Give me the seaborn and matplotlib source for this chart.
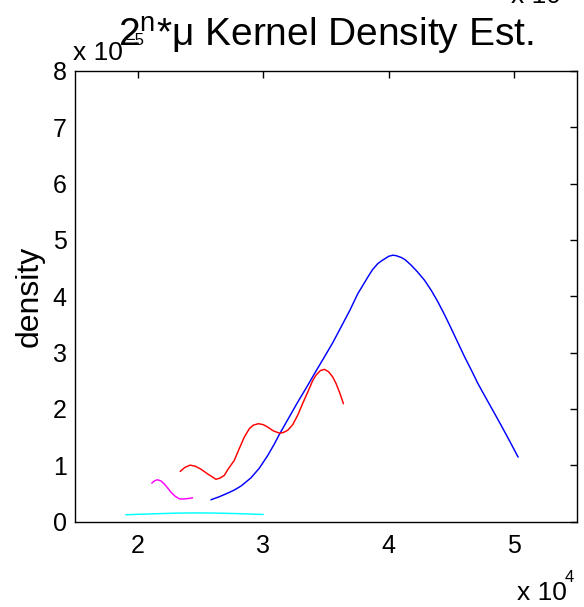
import numpy as np
import pandas as pd
import matplotlib
matplotlib.use("Agg")
import matplotlib.pyplot as plt
import seaborn as sns

# x in units of 1e4, density in units of 1e-5 (as displayed on the axes)
blue_x = [2.583, 2.65, 2.716, 2.77, 2.823, 2.902, 2.968, 3.036, 3.088, 3.128, 3.195,
          3.275, 3.355, 3.42, 3.487, 3.555, 3.620, 3.69, 3.754, 3.834,
          3.87, 3.913, 3.95, 4.00, 4.033, 4.06, 4.10, 4.13, 4.179, 4.23, 4.285, 4.34,
          4.392, 4.445, 4.498, 4.55, 4.605, 4.66, 4.711, 4.78, 4.844, 4.90, 4.951, 5.031]
blue_y = [0.386, 0.44, 0.503, 0.56, 0.630, 0.775, 0.945, 1.173, 1.375, 1.545, 1.808,
          2.121, 2.420, 2.67, 2.921, 3.18, 3.454, 3.75, 4.048, 4.343,
          4.47, 4.581, 4.64, 4.71, 4.729, 4.72, 4.688, 4.65, 4.551, 4.43, 4.284, 4.10,
          3.899, 3.67, 3.426, 3.18, 2.921, 2.68, 2.448, 2.17, 1.915, 1.69, 1.48, 1.143]

red_x = [2.338, 2.375, 2.418, 2.46, 2.503, 2.56, 2.623, 2.655, 2.689, 2.72, 2.769, 2.81,
         2.849, 2.889, 2.92, 2.961, 3.00, 3.036, 3.08, 3.128, 3.16, 3.195, 3.235,
         3.275, 3.315, 3.355, 3.395, 3.421, 3.455, 3.487, 3.52, 3.554, 3.58, 3.607, 3.639]
red_y = [0.889, 0.96, 1.001, 0.98, 0.930, 0.84, 0.750, 0.77, 0.818, 0.93, 1.084, 1.30,
         1.499, 1.648, 1.71, 1.737, 1.72, 1.676, 1.61, 1.570, 1.58, 1.62, 1.72,
         1.89, 2.10, 2.30, 2.507, 2.60, 2.68, 2.702, 2.66, 2.565, 2.45, 2.299, 2.092]

mag_x = [2.112, 2.135, 2.158, 2.185, 2.210, 2.237, 2.264, 2.297, 2.330, 2.357, 2.384,
         2.41, 2.437]
mag_y = [0.681, 0.725, 0.741, 0.72, 0.670, 0.60, 0.521, 0.45, 0.404, 0.398, 0.404,
         0.41, 0.421]

cyan_x = [1.905, 2.10, 2.30, 2.45, 2.60, 2.80, 3.00]
cyan_y = [0.120, 0.135, 0.148, 0.153, 0.150, 0.140, 0.125]

x_ticks = [2, 3, 4, 5]
y_ticks = [0, 1, 2, 3, 4, 5, 6, 7, 8]

series = {"blue": (blue_x, blue_y), "red": (red_x, red_y),
          "magenta": (mag_x, mag_y), "cyan": (cyan_x, cyan_y)}
frames = []
for name, (xs, ys) in series.items():
    frames.append(pd.DataFrame({"x": xs, "y": ys, "s": name}))
df = pd.concat(frames, ignore_index=True)

sns.set_style("white")
plt.rcParams["font.family"] = ["Liberation Sans", "DejaVu Sans"]
plt.rcParams["mathtext.fontset"] = "custom"
plt.rcParams["mathtext.rm"] = "Liberation Sans"
plt.rcParams["mathtext.it"] = "Liberation Sans:italic"
plt.rcParams["text.color"] = "black"
plt.rcParams["axes.labelcolor"] = "black"

fig = plt.figure(figsize=(5.84, 6.07), dpi=100)
ax = fig.add_axes([75/584, 1 - 521.5/607, (577-75)/584, (521.5-71)/607])

pal = {"blue": "#0000ff", "red": "#ff0000", "magenta": "#ff00ff", "cyan": "#00ffff"}
sns.lineplot(data=df, x="x", y="y", hue="s", palette=pal, units="s", estimator=None,
             sort=False, legend=False, linewidth=1.05, ax=ax)

ax.set_xlim(1.5, 5.5)
ax.set_ylim(0, 8)
ax.set_xticks(x_ticks)
ax.set_yticks(y_ticks)
ax.set_xticklabels([str(t) for t in x_ticks])
ax.set_yticklabels([str(t) for t in y_ticks])
ax.tick_params(direction="in", length=5, width=1.0, top=True, right=True,
               labelsize=18, colors="black")
ax.tick_params(axis="x", pad=9)
ax.tick_params(axis="y", pad=6)
for sp in ax.spines.values():
    sp.set_visible(True)
    sp.set_color("black")
    sp.set_linewidth(1.0)

ax.set_xlabel("")
ax.set_ylabel("density", fontsize=23, labelpad=6, color="black")
ax.set_title("2$^{\\mathrm{n}}$*μ Kernel Density Est.", fontsize=28, pad=17.5,
             color="black")

H = 607
fig.text(73/584, 1 - 60/H, "x 10", fontsize=19, ha="left", va="baseline")
fig.text(125/584, 1 - 45/H, "\u22125", fontsize=12, ha="left", va="baseline")
fig.text(517/584, 1 - 600/H, "x 10", fontsize=19, ha="left", va="baseline")
fig.text(565/584, 1 - 582/H, "4", fontsize=12, ha="left", va="baseline")
fig.text(511/584, 1 - 3/H, "x 10", fontsize=19, ha="left", va="baseline")

fig.savefig("out.png", dpi=100)
